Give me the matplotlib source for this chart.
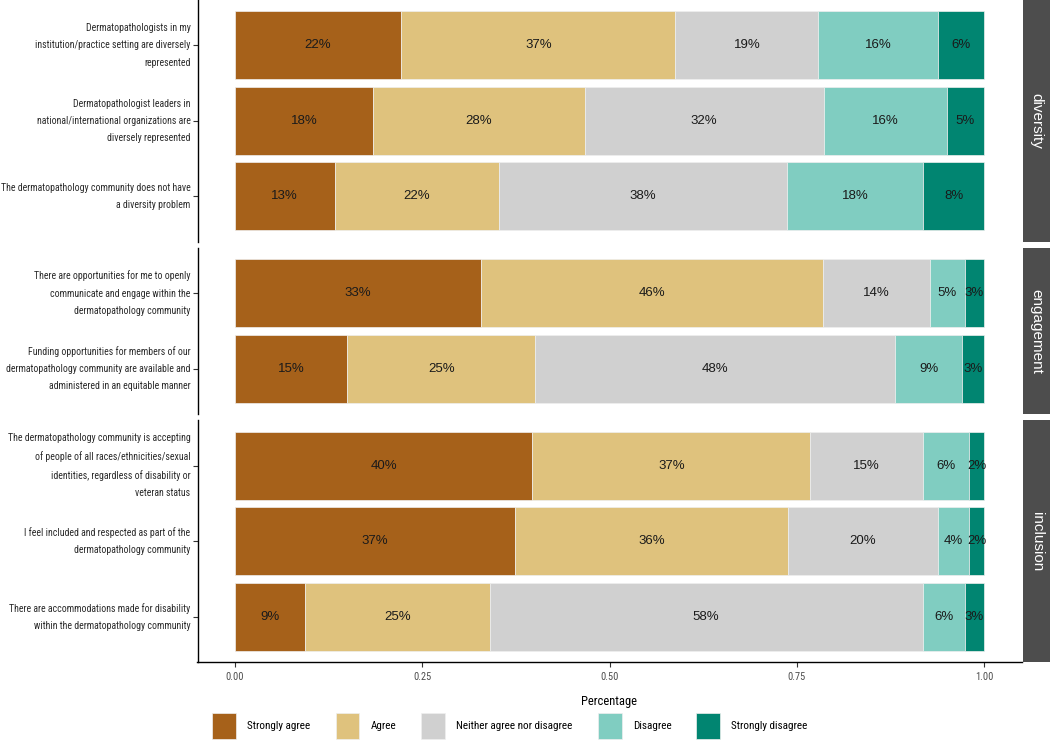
import numpy as np
import matplotlib
matplotlib.use("Agg")
import matplotlib.pyplot as plt
from matplotlib.patches import Patch

# data (percent of respondents per statement)
themes = ["diversity", "engagement", "inclusion"]
theme_of = ["diversity", "diversity", "diversity",
            "engagement", "engagement",
            "inclusion", "inclusion", "inclusion"]
statements = [
    "Dermatopathologists in my\ninstitution/practice setting are diversely\nrepresented",
    "Dermatopathologist leaders in\nnational/international organizations are\ndiversely represented",
    "The dermatopathology community does not have\na diversity problem",
    "There are opportunities for me to openly\ncommunicate and engage within the\ndermatopathology community",
    "Funding opportunities for members of our\ndermatopathology community are available and\nadministered in an equitable manner",
    "The dermatopathology community is accepting\nof people of all races/ethnicities/sexual\nidentities, regardless of disability or\nveteran status",
    "I feel included and respected as part of the\ndermatopathology community",
    "There are accommodations made for disability\nwithin the dermatopathology community",
]
levels = ["Strongly agree", "Agree", "Neither agree nor disagree",
          "Disagree", "Strongly disagree"]
strongly_agree = [22.2, 18.4, 13.3, 32.8, 15.0, 39.7, 37.4, 9.3]
agree = [36.6, 28.3, 22.0, 45.7, 25.1, 37.1, 36.4, 24.7]
neither = [19.1, 31.9, 38.4, 14.3, 48.0, 15.0, 20.1, 57.8]
disagree = [16.0, 16.4, 18.2, 4.6, 9.0, 6.2, 4.1, 5.6]
strongly_disagree = [6.1, 5.0, 8.1, 2.6, 2.9, 2.0, 2.0, 2.6]

colors = ["#A6611A", "#DFC27D", "#D0D0D0", "#80CDC1", "#018571"]
narrow = ["Roboto Condensed", "Liberation Sans Narrow", "Roboto", "DejaVu Sans"]
plt.rcParams["font.family"] = narrow

shares = np.array([strongly_agree, agree, neither, disagree, strongly_disagree]) / 100.0
counts = [theme_of.count(t) for t in themes]

fig = plt.figure(figsize=(10.5, 7.52), dpi=100)
gs = fig.add_gridspec(3, 1, height_ratios=[c + 0.2 for c in counts],
                      left=197.5 / 1050, right=1021.5 / 1050,
                      top=1.0, bottom=90 / 752, hspace=0.029)

for p, theme in enumerate(themes):
    ax = fig.add_subplot(gs[p])
    idx = [i for i, t in enumerate(theme_of) if t == theme]
    ypos = np.arange(len(idx))
    left = np.zeros(len(idx))
    for k, lev in enumerate(levels):
        vals = shares[k, idx]
        ax.barh(ypos, vals, left=left, height=0.9, color=colors[k],
                edgecolor="#EFEFEF", linewidth=0.5)
        for y, l, v in zip(ypos, left, vals):
            ax.text(l + v / 2, y, f"{round(v * 100):.0f}%", ha="center", va="center",
                    fontsize=9.5, color="#1A1A1A", family=["Liberation Sans", "DejaVu Sans"])
        left += vals
    ax.set_xlim(-0.05, 1.05)
    ax.set_ylim(len(idx) - 0.4, -0.6)
    ax.set_yticks(ypos)
    ax.set_yticklabels([statements[i] for i in idx], fontsize=7.1, linespacing=1.9,
                       color="#2B2B2B", va="center")
    for s in ["top", "right"]:
        ax.spines[s].set_visible(False)
    ax.spines["left"].set_linewidth(1.0)
    ax.tick_params(axis="y", length=3.5, width=0.8, color="#333333", pad=1.5)
    if p < len(themes) - 1:
        ax.spines["bottom"].set_visible(False)
        ax.set_xticks([])
    else:
        ax.spines["bottom"].set_linewidth(1.0)
        ax.set_xticks([0, 0.25, 0.5, 0.75, 1.0])
        ax.set_xticklabels(["0.00", "0.25", "0.50", "0.75", "1.00"], fontsize=7.5,
                           color="#4D4D4D")
        ax.tick_params(axis="x", length=3.5, width=0.8, color="#333333", pad=4)
        ax.set_xlabel("Percentage", fontsize=9, labelpad=9)

    # facet strip on the right
    pos = ax.get_position()
    sax = fig.add_axes([1023 / 1050, pos.y0, 1 - 1023 / 1050, pos.height])
    sax.set_facecolor("#4D4D4D")
    sax.set_xticks([])
    sax.set_yticks([])
    for s in sax.spines.values():
        s.set_visible(False)
    sax.text(0.5, 0.5, theme, rotation=270, ha="center", va="center",
             color="white", fontsize=11, family=["Liberation Sans", "DejaVu Sans"],
             transform=sax.transAxes)

handles = [Patch(facecolor=c, edgecolor="#EFEFEF", linewidth=0.5) for c in colors]
fig.legend(handles, levels, loc="center", bbox_to_anchor=(510 / 1050, 26 / 752),
           ncol=5, frameon=False, fontsize=8, handlelength=2.15, handleheight=3.1,
           handletextpad=1.0, columnspacing=2.25)

fig.savefig("out.png", dpi=100)
